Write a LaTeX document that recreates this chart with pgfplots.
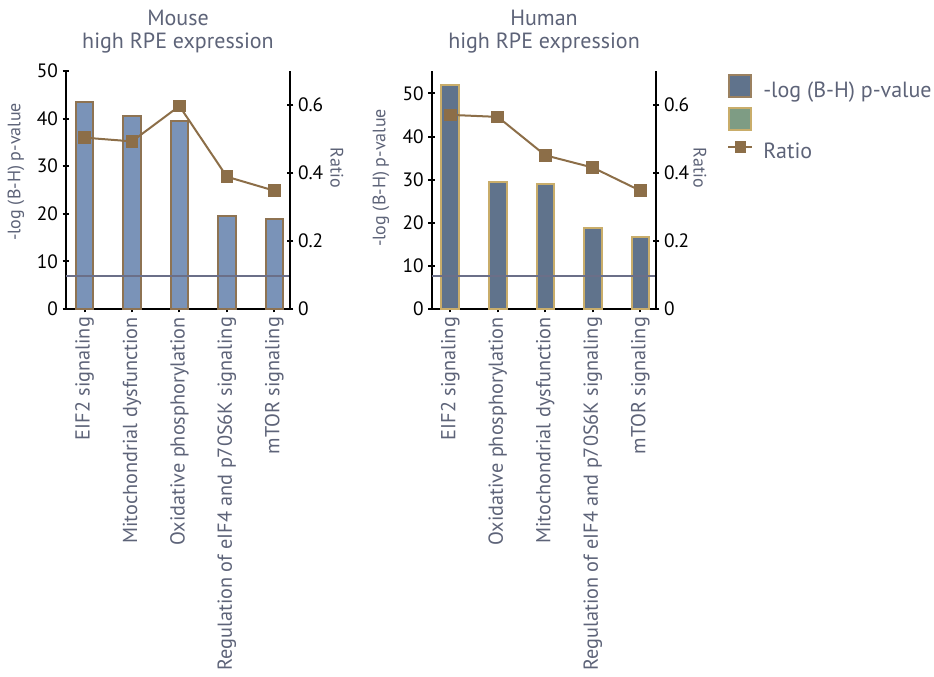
\documentclass[border=0pt]{standalone}
\usepackage{fontspec}
\setmainfont{PT Sans}
\usepackage{pgfplots}
\pgfplotsset{compat=1.18}
\definecolor{mbar}{HTML}{7A93B8}
\definecolor{medge}{HTML}{8E7352}
\definecolor{hbar}{HTML}{60738C}
\definecolor{hedge}{HTML}{C9AD6A}
\definecolor{ratio}{HTML}{8C6E48}
\definecolor{thr}{HTML}{6B6F88}
\definecolor{txt}{HTML}{5D6378}
\definecolor{lgreen}{HTML}{7E9C84}
\definecolor{ledge}{HTML}{9B8160}

\pgfplotsset{
  base/.style={
    scale only axis, width=168pt, height=178.5pt,
    anchor=south west,
    xmin=-0.39, xmax=4.33,
    major tick length=5pt,
    tick style={line width=1.5pt, black},
    tick align=outside,
    /pgf/number format/assume math mode=true,
    tick label style={font=\fontsize{14.5}{14.5}\selectfont, text=black},
    clip=false,
  },
  barax/.style={base,
    axis x line=bottom, axis y line=left,
    axis line style={line width=1.5pt, black, -},
    every outer x axis line/.append style={-},
    every outer y axis line/.append style={-},
    xtick={0,1,2,3,4},
    x tick label style={rotate=90, anchor=east, text=txt, font=\fontsize{15.2}{15.2}\selectfont},
  },
  ratax/.style={base,
    axis x line=none, axis y line=right,
    axis line style={line width=1.5pt, black, -},
    every outer y axis line/.append style={-},
    ymin=0, ymax=0.7,
    ytick={0,0.2,0.4,0.6}, yticklabels={0,0.2,0.4,0.6},
  },
}

\begin{document}
\begin{tikzpicture}
\useasboundingbox (0,0) rectangle (700.5pt,507pt);

% ---------------- Mouse ----------------
\begin{axis}[barax, at={(49.5pt,275.25pt)},
  ymin=0, ymax=50, ytick={0,10,...,50},
  xticklabels={EIF2 signaling, Mitochondrial dysfunction, Oxidative phosphorylation, Regulation of eIF4 and p70S6K signaling, mTOR signaling}]
\addplot[ybar, bar width=0.37, fill=mbar, draw=medge, line width=1.5pt] coordinates {(0,43.5) (1,40.5) (2,39.4) (3,19.5) (4,19.0)};
\addplot[thr, line width=1.3pt] coordinates {(-0.39,7.0) (4.33,7.0)};
\end{axis}
\begin{axis}[ratax, at={(49.5pt,275.25pt)}]
\addplot[ratio, line width=1.5pt, mark=square*, mark size=4pt] coordinates {(0,0.504) (1,0.493) (2,0.597) (3,0.389) (4,0.348)};
\end{axis}

% ---------------- Human ----------------
\begin{axis}[barax, at={(323.8pt,275.25pt)}, width=168.2pt,
  ymin=0, ymax=55.2, ytick={0,10,...,50},
  xticklabels={EIF2 signaling, Oxidative phosphorylation, Mitochondrial dysfunction, Regulation of eIF4 and p70S6K signaling, mTOR signaling},
  legend style={at={(1.3166,0.99)}, anchor=north west, draw=none, fill=none, inner sep=0pt,
    font=\fontsize{16.5}{16.5}\selectfont, text=txt, row sep=6pt,
    nodes={inner sep=0pt, outer sep=0pt, text=txt}},
  legend cell align=left,
  legend image code/.code={\draw[#1, line width=1.5pt] (0.75pt,-4.5pt) rectangle (17.25pt,12pt);},
  ]
\addlegendimage{fill=hbar, draw=ledge}
\addlegendentry{\hspace{7.5pt}-log (B-H) p-value}
\addlegendimage{fill=lgreen, draw=hedge}
\addlegendentry{\strut}
\addlegendimage{legend image code/.code={\draw[ratio, line width=1.5pt] (0pt,4pt) -- (18pt,4pt); \fill[ratio] (5pt,0pt) rectangle (13pt,8pt);}}
\addlegendentry{\hspace{7.5pt}Ratio}
\addplot[ybar, bar width=0.37, fill=hbar, draw=hedge, line width=1.5pt, forget plot] coordinates {(0,52.0) (1,29.5) (2,28.9) (3,18.9) (4,16.8)};
\addplot[thr, line width=1.3pt, forget plot] coordinates {(-0.39,7.65) (4.33,7.65)};
\end{axis}
\begin{axis}[ratax, at={(323.8pt,275.25pt)}, width=168.2pt]
\addplot[ratio, line width=1.5pt, mark=square*, mark size=4pt] coordinates {(0,0.571) (1,0.565) (2,0.452) (3,0.416) (4,0.348)};
\end{axis}

% ---------------- Text ----------------
\begin{scope}[every node/.style={text=txt}]
\node[align=center, font=\fontsize{16.5}{17.25}\selectfont] at (133.5pt,483.4pt) {Mouse\\high RPE expression};
\node[align=center, font=\fontsize{16.5}{17.25}\selectfont] at (408pt,483.4pt) {Human\\high RPE expression};
\node[rotate=90, font=\fontsize{13.5}{13.5}\selectfont] at (12pt,378pt) {-log (B-H) p-value};
\node[rotate=90, font=\fontsize{13.5}{13.5}\selectfont] at (285.75pt,373.5pt) {-log (B-H) p-value};
\node[rotate=-90, font=\fontsize{13.5}{13.5}\selectfont] at (252.75pt,381pt) {Ratio};
\node[rotate=-90, font=\fontsize{13.5}{13.5}\selectfont] at (525pt,381pt) {Ratio};
\end{scope}
\end{tikzpicture}
\end{document}
